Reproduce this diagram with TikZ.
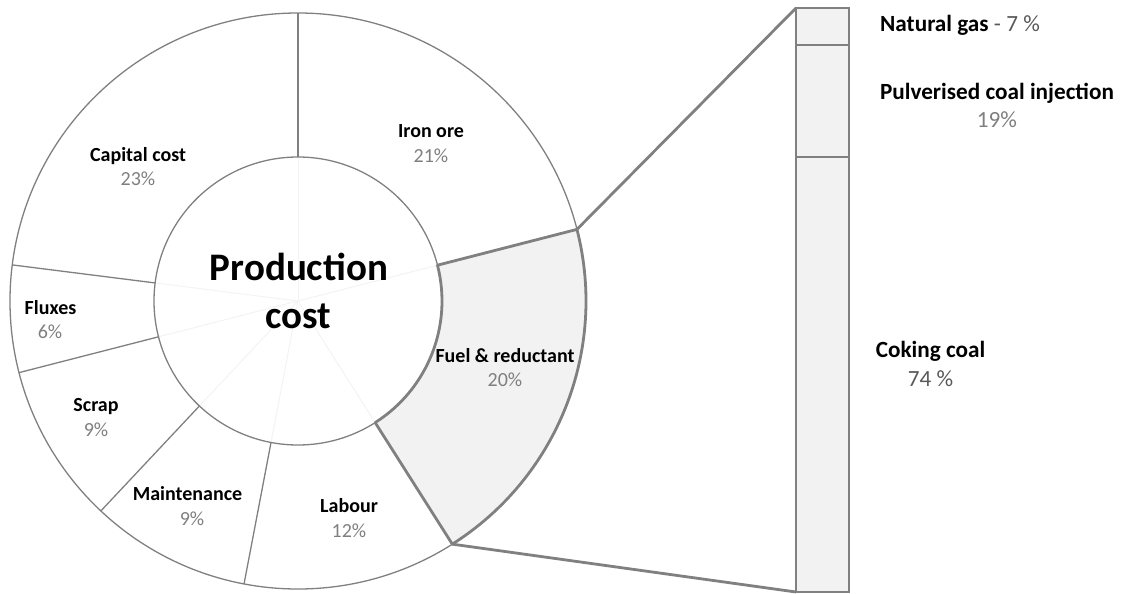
\documentclass[tikz,border=0pt]{standalone}
\usepackage{fontspec}
\setmainfont{Carlito}
\usetikzlibrary{calc}

\definecolor{edge}{HTML}{808080}
\definecolor{faint}{HTML}{F3F3F3}
\definecolor{fuelfill}{HTML}{F2F2F2}
\definecolor{pctgray}{HTML}{7F7F7F}
\definecolor{subgray}{HTML}{595959}

\tikzset{
  thinedge/.style={draw=edge, line width=1.3pt},
  thickedge/.style={draw=edge, line width=2.8pt, line join=round},
  lbl/.style={font=\bfseries\fontsize{20}{24}\selectfont, text=black, inner sep=0pt, anchor=base},
  pct/.style={font=\fontsize{20}{24}\selectfont, text=pctgray, inner sep=0pt, anchor=base},
  biglbl/.style={font=\bfseries\fontsize{23.2}{28}\selectfont, text=black, inner sep=0pt, anchor=base},
  bigpct/.style={font=\fontsize{23.2}{28}\selectfont, text=pctgray, inner sep=0pt, anchor=base},
  bigsub/.style={font=\fontsize{23.2}{28}\selectfont, text=subgray, inner sep=0pt, anchor=base},
  title/.style={font=\bfseries\fontsize{39}{46}\selectfont, text=black, inner sep=0pt, anchor=base},
}

\begin{document}
\begin{tikzpicture}[x=1pt, y=-1pt]
\useasboundingbox (0,0) rectangle (1125,594);

% ---- ring chart, centred at (298,301); angles measured clockwise on the page
\begin{scope}[shift={(298,301)}]
  % highlighted slice: fuel & reductant (20 %)
  \fill[fuelfill] (-14.4:144) -- (-14.4:288) arc[start angle=-14.4, end angle=57.6, radius=288]
        -- (57.6:144) arc[start angle=57.6, end angle=-14.4, radius=144] -- cycle;

  % faint spokes inside the hub
  \foreach \a in {-90,-14.4,57.6,100.8,133.2,165.6,187.2}
    \draw[faint, line width=1pt] (0,0) -- (\a:144);

  % ring outlines and slice borders
  \draw[thinedge] (0,0) circle[radius=288];
  \draw[thinedge] (0,0) circle[radius=144];
  \foreach \a in {-90,100.8,133.2,165.6,187.2}
    \draw[thinedge] (\a:144) -- (\a:288);

  % outline of the highlighted slice
  \draw[thickedge] (-14.4:144) -- (-14.4:288) arc[start angle=-14.4, end angle=57.6, radius=288]
        -- (57.6:144) arc[start angle=57.6, end angle=-14.4, radius=144] -- cycle;

  \coordinate (fuelTop) at (-14.4:288);
  \coordinate (fuelBot) at (57.6:288);
\end{scope}

% ---- breakdown bar of fuel & reductant
\node[draw=edge, line width=2.8pt, fill=fuelfill, minimum width=53pt, minimum height=584pt,
      inner sep=0pt, outer sep=0pt] (bar) at (822.5,300) {};
\draw[edge, line width=2.8pt] (796,45) -- (849,45);
\draw[edge, line width=2.8pt] (796,157) -- (849,157);

% ---- lines tying the slice to the bar
\draw[thickedge] (fuelTop) -- (bar.north west);
\draw[thickedge] (fuelBot) -- (bar.south west);

% ---- hub title
\node[title] (titleA) at (299,280) {Production};
\node[title] (titleB) at (298.5,328) {cost};

% ---- slice labels
\node[lbl] (ironL) at (431,137.5) {Iron ore};
\node[pct] (ironP) at (431,162) {21\%};
\node[lbl] (capL) at (138,161.5) {Capital cost};
\node[pct] (capP) at (138,185.5) {23\%};
\node[lbl] (fluxL) at (50.5,314) {Fluxes};
\node[pct] (fluxP) at (50,338) {6\%};
\node[lbl] (scrapL) at (96,411) {Scrap};
\node[pct] (scrapP) at (96,436.5) {9\%};
\node[lbl] (mainL) at (187.5,500.5) {Maintenance};
\node[pct] (mainP) at (192,525) {9\%};
\node[lbl] (labL) at (349,512.5) {Labour};
\node[pct] (labP) at (349,537) {12\%};
\node[lbl] (fuelL) at (505,362) {Fuel \& reductant};
\node[pct] (fuelP) at (505,386) {20\%};

% ---- bar labels
\node[biglbl, anchor=base west] (gasL) at (880,32) {Natural gas {\mdseries\color{subgray}- 7 \%}};
\node[biglbl] (pciL) at (997,99.5) {Pulverised coal injection};
\node[bigpct] (pciP) at (997,128) {19\%};
\node[biglbl] (cokL) at (930.5,357.5) {Coking coal};
\node[bigsub] (cokP) at (930.5,386.5) {74 \%};
\end{tikzpicture}
\end{document}
